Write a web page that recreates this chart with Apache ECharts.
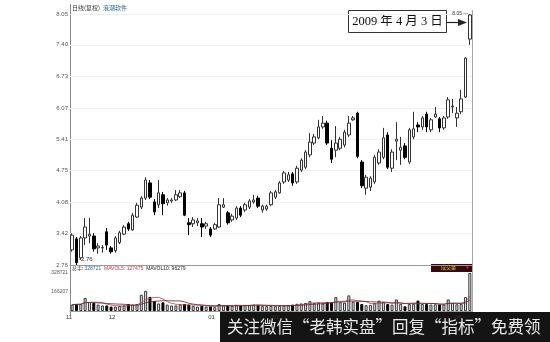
<!DOCTYPE html>
<html><head><meta charset="utf-8">
<script src="https://cdn.jsdelivr.net/npm/echarts@6/dist/echarts.min.js"></script>
<style>html,body{margin:0;padding:0;background:#fff}#c{width:550px;height:342px}</style>
</head><body><div id="c"></div>
<script>
const dates = [
'2008-11-17','2008-11-18','2008-11-19','2008-11-20','2008-11-21','2008-11-24','2008-11-25','2008-11-26','2008-11-27','2008-11-28',
'2008-12-01','2008-12-02','2008-12-03','2008-12-04','2008-12-05','2008-12-08','2008-12-09','2008-12-10','2008-12-11','2008-12-12',
'2008-12-15','2008-12-16','2008-12-17','2008-12-18','2008-12-19','2008-12-22','2008-12-23','2008-12-24','2008-12-25','2008-12-26',
'2008-12-29','2008-12-30','2008-12-31',
'2009-01-05','2009-01-06','2009-01-07','2009-01-08','2009-01-09','2009-01-12','2009-01-13','2009-01-14','2009-01-15','2009-01-16',
'2009-01-19','2009-01-20','2009-01-21','2009-01-22','2009-01-23',
'2009-02-02','2009-02-03','2009-02-04','2009-02-05','2009-02-06','2009-02-09','2009-02-10','2009-02-11','2009-02-12','2009-02-13',
'2009-02-16','2009-02-17','2009-02-18','2009-02-19','2009-02-20','2009-02-23','2009-02-24','2009-02-25','2009-02-26','2009-02-27',
'2009-03-02','2009-03-03','2009-03-04','2009-03-05','2009-03-06','2009-03-09','2009-03-10','2009-03-11','2009-03-12','2009-03-13',
'2009-03-16','2009-03-17','2009-03-18','2009-03-19','2009-03-20','2009-03-23','2009-03-24','2009-03-25','2009-03-26','2009-03-27',
'2009-03-30','2009-03-31','2009-04-01','2009-04-02','2009-04-03'];
const opens = [3.08,3.31,2.91,3.33,3.37,3.37,3.12,3.12,3.46,3.12,3.06,3.23,3.41,3.63,3.50,3.77,3.98,4.17,4.49,4.09,
4.03,4.24,4.07,4.11,4.13,4.20,4.28,3.65,3.63,3.65,3.63,3.58,3.52,3.52,3.56,3.98,3.86,3.71,3.75,3.96,
3.92,3.98,4.09,4.17,3.92,3.94,4.03,4.19,4.28,4.51,4.55,4.68,4.51,4.76,4.82,5.08,5.33,5.44,5.67,5.75,
5.22,5.18,5.22,5.29,5.50,5.82,5.96,4.93,4.38,4.40,4.51,4.91,5.03,5.50,4.80,5.37,5.18,5.27,4.93,5.46,
5.71,5.67,5.94,5.61,5.88,5.84,5.65,5.88,6.09,5.86,5.99,6.30,7.52];
const closes = [3.39,2.81,3.33,3.56,3.41,3.10,3.16,3.13,3.18,3.04,3.33,3.44,3.56,3.52,3.81,4.02,4.17,4.55,4.19,3.88,
4.28,4.05,4.13,4.13,4.24,4.28,3.81,3.61,3.71,3.69,3.56,3.63,3.39,3.61,4.03,4.03,3.65,3.79,3.96,3.81,
4.03,4.11,4.13,4.00,4.00,4.00,4.28,4.30,4.49,4.70,4.66,4.49,4.80,4.97,5.14,5.35,5.46,5.67,5.75,5.33,
4.99,5.33,5.41,5.56,5.75,5.86,5.05,4.43,4.61,4.59,5.03,5.14,5.44,4.82,5.14,5.41,5.24,5.03,5.61,5.63,
5.67,5.86,5.67,5.82,5.94,5.65,5.86,6.24,6.11,5.96,6.26,7.12,8.03];
const highs = [3.43,3.35,3.37,3.75,3.75,3.43,3.22,3.18,3.54,3.16,3.37,3.48,3.60,3.67,3.86,4.07,4.21,4.61,4.55,4.15,
4.55,4.30,4.17,4.17,4.34,4.34,4.32,3.75,3.77,3.75,3.75,3.67,3.56,3.65,4.17,4.17,3.90,3.84,4.00,4.00,
4.07,4.15,4.24,4.22,4.03,4.03,4.32,4.34,4.53,4.74,4.72,4.72,4.85,5.01,5.18,5.54,5.52,5.82,5.90,5.80,
5.39,5.69,5.46,5.61,5.90,5.90,5.99,4.97,4.66,4.63,5.08,5.20,5.65,5.56,5.20,5.77,5.46,5.33,5.65,5.99,
5.77,5.90,5.99,5.86,6.09,5.88,5.90,6.30,6.26,6.09,6.45,7.14,8.05];
const lows = [3.04,2.76,2.87,3.18,3.22,3.04,3.00,3.02,3.08,3.00,3.02,3.20,3.39,3.48,3.48,3.75,3.94,4.13,4.15,3.81,
3.96,3.81,4.01,4.07,4.11,4.17,3.79,3.39,3.56,3.58,3.35,3.52,3.35,3.50,3.54,3.96,3.61,3.67,3.71,3.77,
3.88,3.94,4.05,3.96,3.86,3.90,4.00,4.15,4.26,4.47,4.51,4.43,4.47,4.72,4.78,5.03,5.29,5.41,5.63,5.29,
4.91,5.03,5.18,5.24,5.46,5.80,5.01,4.38,4.24,4.32,4.47,4.87,4.99,4.78,4.72,4.97,4.87,4.99,4.89,5.41,
5.56,5.61,5.56,5.56,5.86,5.56,5.61,5.84,5.96,5.67,5.94,6.28,7.40];
const volumes = [55000,60000,60000,113000,78000,70000,55000,48000,48000,38000,38000,45000,48000,60000,55000,60000,140000,174000,122000,87000,
65000,75000,55000,48000,48000,55000,60000,55000,45000,38000,45000,38000,40000,33000,60000,50000,48000,45000,50000,48000,
52000,50000,55000,52000,45000,42000,45000,42000,45000,45000,48000,55000,62000,65000,70000,85000,68000,72000,65000,78000,
75000,120000,75000,72000,135000,80000,78000,60000,50000,52000,70000,90000,78000,60000,55000,100000,62000,40000,60000,62000,
90000,60000,60000,55000,58415,57000,55000,100000,68654,58000,62000,120000,328721];
const priceTicks = [2.76,3.42,4.08,4.75,5.41,6.07,6.73,7.40,8.05];
const volTicks = [166207,328721];
const volHeader = {total:328721, mavol5:127475, mavol10:96279};
const stockTitle = ['日线(复权)','浪潮软件'];
const noteText = '2009 年 4 月 3 日';
const bannerText = '关注微信“老韩实盘”回复“指标”免费领';

function ma(n){
  return volumes.map((v,i)=>{const s=volumes.slice(Math.max(0,i-n+1),i+1);return s.reduce((a,b)=>a+b,0)/s.length;});
}
function monthLabel(i){
  const m=dates[i].slice(5,7);
  if(i===0||m!==dates[i-1].slice(5,7)) return m;
  return '';
}
const candleData = dates.map((d,i)=>[opens[i],closes[i],lows[i],highs[i]]);
const volData = volumes.map((v,i)=>({value:v,itemStyle: closes[i]>=opens[i]
  ? {color:'#e6f2fa',borderColor:'#333',borderWidth:1}
  : {color:'#000',borderColor:'#000',borderWidth:1}}));
const minIdx = lows.indexOf(Math.min(...lows));
const maxIdx = highs.indexOf(Math.max(...highs));
const small = 'Liberation Sans';

const chart = echarts.init(document.getElementById('c'));
chart.setOption({
  animation:false,
  backgroundColor:'#fff',
  grid:[{left:70,right:78,top:14,height:251},{left:70,right:78,top:267,height:44}],
  xAxis:[
    {type:'category',gridIndex:0,data:dates,axisLine:{show:true,lineStyle:{color:'#9a9a9a'}},axisTick:{show:false},axisLabel:{show:false},splitLine:{show:false}},
    {type:'category',gridIndex:1,data:dates,axisLine:{show:true,lineStyle:{color:'#9a9a9a'}},axisTick:{show:false},
     axisLabel:{interval:0,formatter:(v,i)=>monthLabel(i),fontSize:6,fontFamily:small,color:'#333',align:'right',margin:3},splitLine:{show:false}}
  ],
  yAxis:[
    {type:'value',gridIndex:0,min:2.76,max:8.05,axisLine:{show:false},axisTick:{show:false,customValues:priceTicks},
     axisLabel:{customValues:priceTicks,formatter:v=>v.toFixed(2),fontSize:6,fontFamily:small,color:'#555',margin:2},
     splitLine:{show:true,lineStyle:{color:'#efefef'}}},
    {type:'value',gridIndex:1,min:0,max:380000,axisLine:{show:false},axisTick:{show:false,customValues:volTicks},
     axisLabel:{customValues:volTicks,formatter:v=>String(v),fontSize:5,fontFamily:small,color:'#555',margin:2},
     splitLine:{show:false}}
  ],
  series:[
    {type:'candlestick',xAxisIndex:0,yAxisIndex:0,data:candleData,barWidth:3,
     itemStyle:{color:'#fff',color0:'#000',borderColor:'#333',borderColor0:'#000',borderWidth:1},
     markPoint:{symbol:'rect',symbolSize:1,itemStyle:{color:'rgba(0,0,0,0)'},
       data:[
        {coord:[dates[maxIdx],highs[maxIdx]],label:{show:true,position:'left',distance:1,formatter:highs[maxIdx].toFixed(2)+' —',fontSize:5,fontFamily:small,color:'#333'}},
        {coord:[dates[minIdx],lows[minIdx]],label:{show:true,position:'right',distance:2,offset:[0,-6],formatter:'-'+lows[minIdx].toFixed(2),fontSize:6,fontFamily:small,color:'#333'}}
       ]}},
    {type:'bar',xAxisIndex:1,yAxisIndex:1,data:volData,barWidth:3},
    {type:'line',xAxisIndex:1,yAxisIndex:1,data:ma(5),symbol:'none',lineStyle:{color:'#c43a3a',width:0.8}},
    {type:'line',xAxisIndex:1,yAxisIndex:1,data:ma(10),symbol:'none',lineStyle:{color:'#5a2a2a',width:0.8}}
  ],
  graphic:[
    {type:'line',shape:{x1:70.5,y1:4,x2:70.5,y2:315},style:{stroke:'#888',lineWidth:1},silent:true},
    {type:'line',shape:{x1:472.5,y1:10,x2:472.5,y2:312},style:{stroke:'#a8a8a8',lineWidth:1},silent:true},
    {type:'text',left:72,top:5,style:{text:'{a|'+stockTitle[0]+'}{b|'+stockTitle[1]+'}',rich:{a:{fontSize:6,fill:'#333',fontFamily:'Noto Sans CJK SC'},b:{fontSize:6,fill:'#2a6f9a',fontFamily:'Noto Sans CJK SC',padding:[0,0,0,3]}}}},
    {type:'text',left:72,top:266,style:{text:'{k|总手: }{v|'+volHeader.total+'}{r|  MAVOL5: '+volHeader.mavol5+'}{d|  MAVOL10: '+volHeader.mavol10+'}',
      rich:{k:{fontSize:5,fill:'#333',fontFamily:'Noto Sans CJK SC'},v:{fontSize:5,fill:'#2a6f9a',fontFamily:small},r:{fontSize:5,fill:'#c43a3a',fontFamily:small},d:{fontSize:5,fill:'#222',fontFamily:small}}}},
    {type:'rect',shape:{x:431,y:264,width:41,height:8},style:{fill:'#3a0808'}},
    {type:'text',left:441,top:265,style:{text:'成交量',fontSize:5,fill:'#f0d000',fontFamily:'Noto Sans CJK SC'}},
    {type:'text',left:466,top:265,style:{text:'▾',fontSize:5,fill:'#e03030'}},
    {type:'rect',shape:{x:348.5,y:10.5,width:98,height:22},style:{fill:'#fff',stroke:'#333',lineWidth:1}},
    {type:'text',x:397.5,y:22,style:{text:noteText,fontSize:12.5,fill:'#111',fontFamily:'Liberation Serif, Noto Sans CJK SC',align:'center',verticalAlign:'middle'}},
    {type:'line',shape:{x1:447,y1:22.5,x2:460,y2:22.5},style:{stroke:'#222',lineWidth:1.2}},
    {type:'polygon',shape:{points:[[458,19],[467,22.5],[458,26]]},style:{fill:'#222'}},
    {type:'rect',shape:{x:220,y:312,width:330,height:30},style:{fill:'#141414'}},
    {type:'text',left:227,top:318,style:{text:bannerText,fontSize:16.5,fill:'#e8e8e8',fontFamily:'Noto Sans CJK SC'}}
  ]
});
</script></body></html>
